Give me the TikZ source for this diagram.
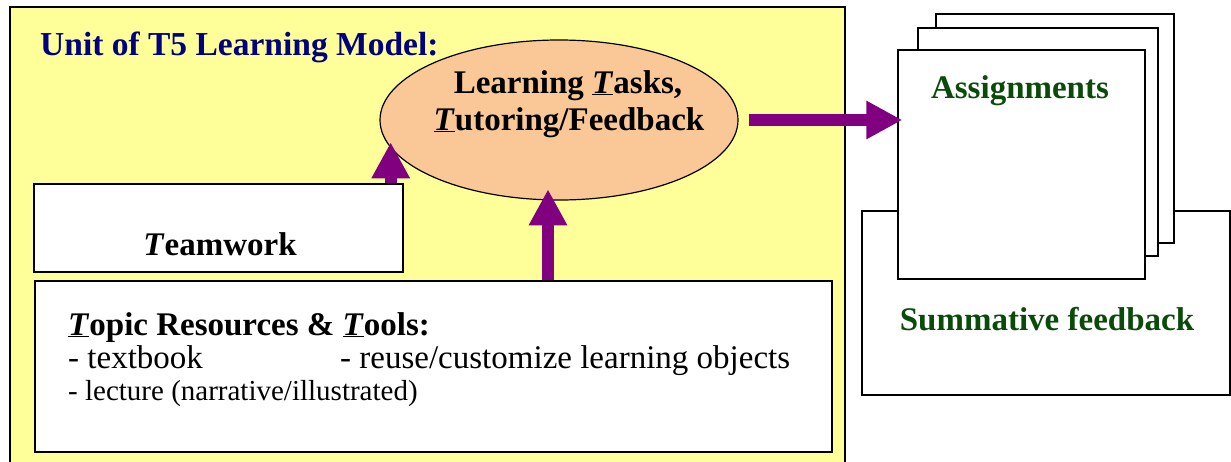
\documentclass[tikz,border=0pt]{standalone}
\usepackage{fontspec}
\setmainfont{Liberation Serif}
\usetikzlibrary{arrows.meta,shapes.geometric}
\definecolor{frameyellow}{RGB}{255,255,153}
\definecolor{peach}{RGB}{250,200,150}
\definecolor{arrowpurple}{RGB}{128,0,128}
\definecolor{titlenavy}{RGB}{0,0,128}
\definecolor{darkgreen}{RGB}{10,75,10}
\newcommand{\ulT}{\underline{\textit{T}}}
\begin{document}
\begin{tikzpicture}[x=1pt,y=-1pt,
  box/.style={draw=black, line width=1.4pt, fill=white, inner sep=0pt},
  bigarrow/.style={draw=arrowpurple, line width=12pt, -{Triangle[length=36pt,width=36pt]}},
  big/.style={font=\fontsize{33}{37}\selectfont\bfseries, inner sep=0pt},
  reg/.style={font=\fontsize{33}{37}\selectfont, inner sep=0pt},
  small/.style={font=\fontsize{29}{33}\selectfont, inner sep=0pt}]
\useasboundingbox (0,0) rectangle (1231,461);
% yellow frame
\node[draw=black, line width=1.4pt, fill=frameyellow, minimum width=835pt, minimum height=468pt, inner sep=0pt] (frame) at (427.5,241) {};
\node[big, text=titlenavy, anchor=base west] (title) at (40,55) {\fontsize{33.5}{37}\selectfont Unit of T5 Learning Model:};
% ellipse
\node[ellipse, draw=black, line width=1.2pt, fill=peach, minimum width=358pt, minimum height=160pt, inner sep=0pt] (ell) at (559,120) {};
\node[big, anchor=base] (ellA) at (568,93) {Learning \ulT asks,};
\node[big, anchor=base] (ellB) at (569,130) {\ulT utoring/Feedback};
% teamwork
\node[box, minimum width=369pt, minimum height=88pt] (team) at (218.5,228) {};
\node[big, anchor=base] (teamtxt) at (220,255) {\textit{T}eamwork};
% topic
\node[box, minimum width=797pt, minimum height=171pt] (topic) at (433.5,366.5) {};
\node[big, anchor=base west] (topicA) at (68,335) {\ulT opic Resources \& \ulT ools:};
\node[reg, anchor=base west] (topicB) at (68,368) {- textbook};
\node[reg, anchor=base west] (topicC) at (340,368) {- reuse/customize learning objects};
\node[small, anchor=base west] (topicD) at (68,400) {- lecture (narrative/illustrated)};
% right side
\node[draw=black, line width=1.4pt, fill=white, minimum width=368pt, minimum height=184pt, inner sep=0pt] (sum) at (1046,303) {};
\node[big, text=darkgreen, anchor=base] (sumtxt) at (1047,330) {Summative feedback};
\node[box, minimum width=238pt, minimum height=229pt] (pg3) at (1055,128.5) {};
\node[box, minimum width=240pt, minimum height=228pt] (pg2) at (1038,142) {};
\node[box, minimum width=247pt, minimum height=229pt] (asg) at (1021.5,164.5) {};
\node[big, text=darkgreen, anchor=base] (asgtxt) at (1020,98) {Assignments};
% arrows
\draw[bigarrow] ([xshift=-13pt]team.north east) -- ++(0,-41);
\draw[bigarrow] ([xshift=114.5pt]topic.north) -- ++(0,-91);
\draw[bigarrow] ([xshift=10pt]ell.east) -- ([xshift=5pt]ell.east -| asg.west);
\end{tikzpicture}
\end{document}
